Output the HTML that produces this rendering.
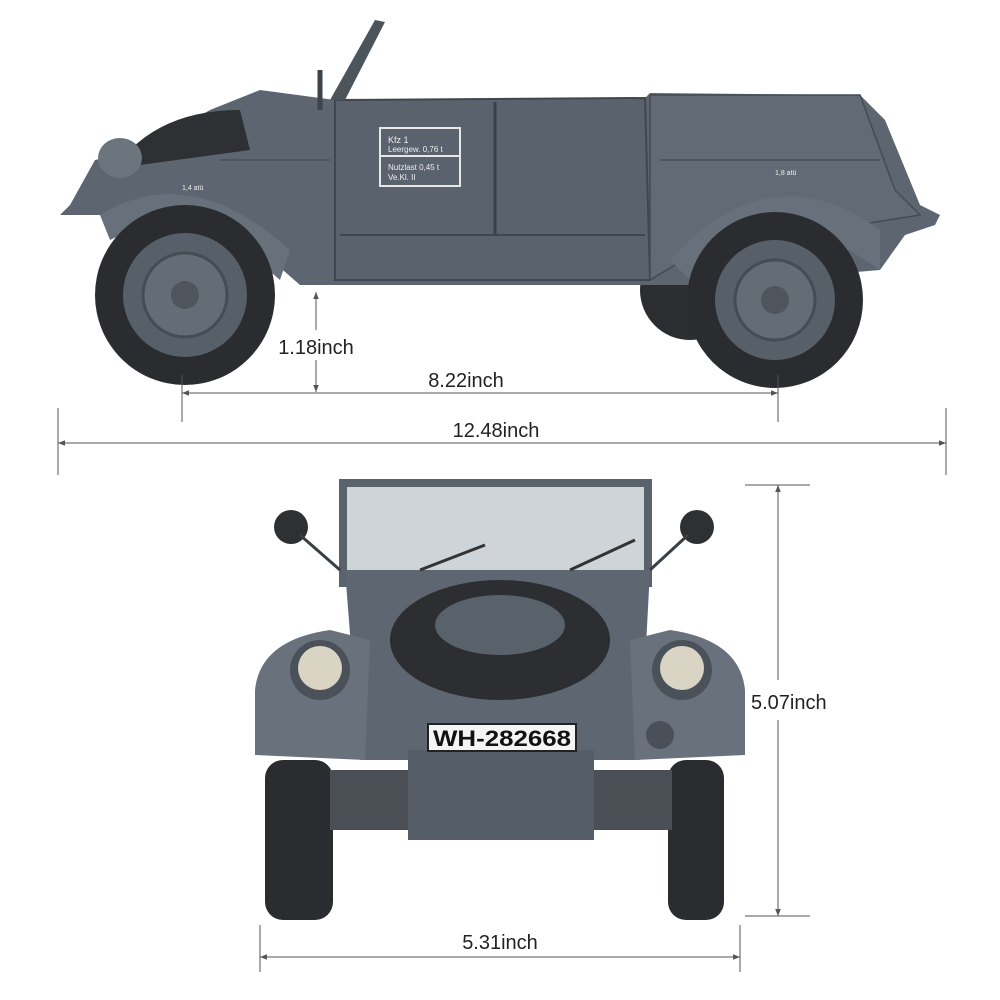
<!DOCTYPE html>
<html><head><meta charset="utf-8"><style>
html,body{margin:0;padding:0;background:#fff;}
svg{display:block;}
text{font-family:"Liberation Sans",sans-serif;}
</style></head><body>
<svg width="1000" height="1000" viewBox="0 0 1000 1000" xmlns="http://www.w3.org/2000/svg">
<defs>
<marker id="a" viewBox="0 0 10 10" refX="10" refY="5" markerWidth="7" markerHeight="7" orient="auto-start-reverse"><path d="M0,1 L10,5 L0,9 z" fill="#555"/></marker>
</defs>
<rect width="1000" height="1000" fill="#fff"/>

<!-- SIDE VIEW -->
<g>
<!-- rear wheel behind -->
<circle cx="690" cy="290" r="50" fill="#2b2d30"/>
<!-- body -->
<path d="M70,205 L95,160 L140,150 L210,110 L260,90 L335,100 L645,98 L650,93 L860,95 L885,120 L920,205 L940,215 L935,225 L905,235 L880,270 L700,285 L300,285 L260,250 L200,205 L110,215 L60,215 Z" fill="#5d6670"/>
<path d="M335,100 L645,98 L650,280 L335,280 Z" fill="#5a636d" stroke="#3f464d" stroke-width="2"/>
<path d="M650,95 L860,95 L895,190 L920,215 L700,250 L650,280 Z" fill="#626b75" stroke="#444b52" stroke-width="1.5"/>
<line x1="495" y1="102" x2="495" y2="235" stroke="#3a4046" stroke-width="3"/>
<line x1="340" y1="235" x2="645" y2="235" stroke="#3f464d" stroke-width="2"/>
<line x1="220" y1="160" x2="330" y2="160" stroke="#48505a" stroke-width="1.5"/>
<line x1="660" y1="160" x2="880" y2="160" stroke="#48505a" stroke-width="1.5"/>
<rect x="380" y="128" width="80" height="58" fill="none" stroke="#e8e8e8" stroke-width="2"/>
<line x1="380" y1="156" x2="460" y2="156" stroke="#e8e8e8" stroke-width="2"/>
<text x="388" y="143" font-size="9" fill="#eee">Kfz 1</text>
<text x="388" y="152" font-size="8" fill="#eee">Leergew. 0,76 t</text>
<text x="388" y="170" font-size="8" fill="#eee">Nutzlast 0,45 t</text>
<text x="388" y="180" font-size="8" fill="#eee">Ve.Kl.  II</text>
<!-- spare tire -->
<path d="M130,150 Q170,110 240,110 L250,150 L140,165 Z" fill="#2e3033"/>
<!-- windshield frame -->
<path d="M330,100 L375,20 L385,22 L345,100 Z" fill="#4c545c"/>
<line x1="320" y1="70" x2="320" y2="110" stroke="#3d434a" stroke-width="5"/>
<!-- headlight -->
<ellipse cx="120" cy="158" rx="22" ry="20" fill="#6c747d"/>
<!-- fender arches -->
<path d="M100,215 Q190,160 290,250 L280,280 Q190,200 110,240 Z" fill="#68717b"/>
<path d="M670,260 Q770,150 880,230 L880,270 Q770,190 690,280 Z" fill="#68717b"/>
<!-- front wheel -->
<circle cx="185" cy="295" r="90" fill="#2a2c2f"/>
<circle cx="185" cy="295" r="62" fill="#575f68"/>
<circle cx="185" cy="295" r="42" fill="#646c75" stroke="#464c53" stroke-width="3"/>
<circle cx="185" cy="295" r="14" fill="#4e555c"/>
<!-- rear wheel -->
<circle cx="775" cy="300" r="88" fill="#2a2c2f"/>
<circle cx="775" cy="300" r="60" fill="#575f68"/>
<circle cx="775" cy="300" r="40" fill="#646c75" stroke="#464c53" stroke-width="3"/>
<circle cx="775" cy="300" r="14" fill="#4e555c"/>
<text x="182" y="190" font-size="7" fill="#eee">1,4 atü</text>
<text x="775" y="175" font-size="7" fill="#eee">1,8 atü</text>
</g>

<!-- side dimensions -->
<g stroke="#555" stroke-width="1" fill="none">
<line x1="316" y1="292" x2="316" y2="330" marker-start="url(#a)"/>
<line x1="316" y1="360" x2="316" y2="392" marker-end="url(#a)"/>
<line x1="182" y1="375" x2="182" y2="422"/>
<line x1="778" y1="375" x2="778" y2="422"/>
<line x1="182" y1="393" x2="778" y2="393" marker-start="url(#a)" marker-end="url(#a)"/>
<line x1="58" y1="408" x2="58" y2="475"/>
<line x1="946" y1="408" x2="946" y2="475"/>
<line x1="58" y1="443" x2="946" y2="443" marker-start="url(#a)" marker-end="url(#a)"/>
</g>
<g font-size="20" fill="#222" text-anchor="middle">
<text x="316" y="354">1.18inch</text>
<text x="466" y="387">8.22inch</text>
<text x="496" y="437">12.48inch</text>
</g>

<!-- FRONT VIEW -->
<g>
<!-- wheels -->
<rect x="265" y="760" width="68" height="160" rx="18" fill="#2a2c2f"/>
<rect x="668" y="760" width="56" height="160" rx="18" fill="#2a2c2f"/>
<rect x="330" y="770" width="80" height="60" fill="#4a4f55"/>
<rect x="592" y="770" width="80" height="60" fill="#4a4f55"/>
<!-- windshield -->
<rect x="343" y="483" width="305" height="100" fill="#cfd4d8" stroke="#5a626b" stroke-width="8"/>
<!-- hood -->
<path d="M345,570 L650,570 L640,760 L360,760 Z" fill="#5e6771"/>
<!-- fenders -->
<path d="M255,690 Q260,640 330,630 L370,640 L365,760 L255,755 Z" fill="#69727c"/>
<path d="M745,690 Q740,640 670,630 L630,640 L635,760 L745,755 Z" fill="#69727c"/>
<!-- lower body -->
<rect x="408" y="750" width="186" height="90" fill="#555d66"/>
<!-- spare tire -->
<ellipse cx="500" cy="640" rx="110" ry="60" fill="#2c2e31"/>
<ellipse cx="500" cy="625" rx="65" ry="30" fill="#59616a"/>
<!-- headlights -->
<circle cx="320" cy="670" r="30" fill="#4a5159"/>
<circle cx="320" cy="668" r="22" fill="#d9d4c4"/>
<circle cx="682" cy="670" r="30" fill="#4a5159"/>
<circle cx="682" cy="668" r="22" fill="#d9d4c4"/>
<!-- mirrors -->
<circle cx="291" cy="527" r="17" fill="#2e3134"/>
<circle cx="697" cy="527" r="17" fill="#2e3134"/>
<line x1="300" y1="535" x2="340" y2="570" stroke="#3a3f44" stroke-width="3"/>
<line x1="688" y1="535" x2="650" y2="570" stroke="#3a3f44" stroke-width="3"/>
<!-- wipers -->
<line x1="420" y1="570" x2="485" y2="545" stroke="#333" stroke-width="3"/>
<line x1="570" y1="570" x2="635" y2="540" stroke="#333" stroke-width="3"/>
<!-- plate -->
<rect x="428" y="724" width="148" height="27" fill="#f4f4f4" stroke="#222" stroke-width="2"/>
<text x="502" y="746" font-size="22" font-weight="bold" fill="#111" text-anchor="middle" textLength="138" lengthAdjust="spacingAndGlyphs">WH-282668</text>
<circle cx="660" cy="735" r="14" fill="#4a5057"/>
</g>

<!-- front dimensions -->
<g stroke="#555" stroke-width="1" fill="none">
<line x1="745" y1="485" x2="810" y2="485"/>
<line x1="745" y1="916" x2="810" y2="916"/>
<line x1="778" y1="485" x2="778" y2="680" marker-start="url(#a)"/>
<line x1="778" y1="720" x2="778" y2="916" marker-end="url(#a)"/>
<line x1="260" y1="925" x2="260" y2="972"/>
<line x1="740" y1="925" x2="740" y2="972"/>
<line x1="260" y1="957" x2="740" y2="957" marker-start="url(#a)" marker-end="url(#a)"/>
</g>
<g font-size="20" fill="#222">
<text x="751" y="709">5.07inch</text>
<text x="500" y="949" text-anchor="middle">5.31inch</text>
</g>
</svg>
</body></html>
